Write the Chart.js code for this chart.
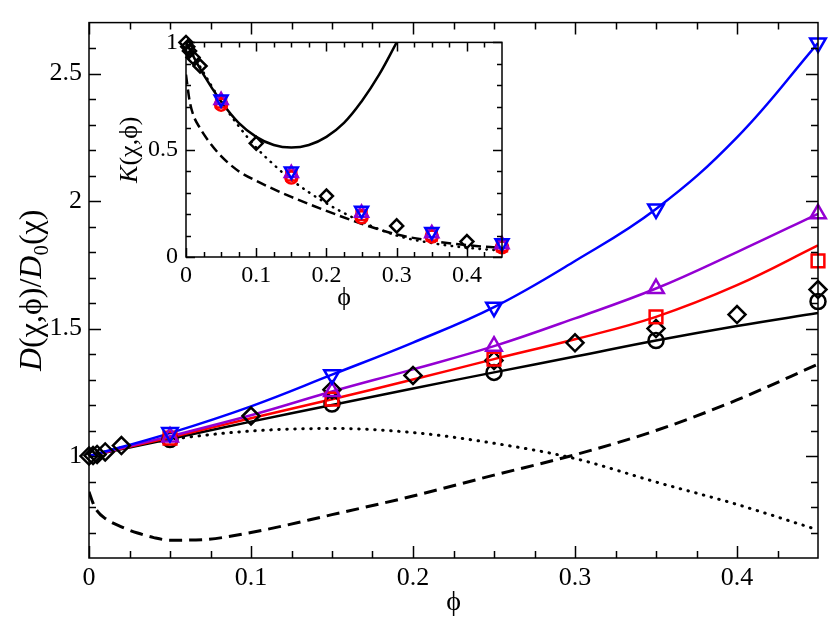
<!DOCTYPE html>
<html>
<head>
<meta charset="UTF-8">
<title>D(chi,phi)/D0(chi)</title>
<script src="https://cdn.jsdelivr.net/npm/chart.js"></script>
<style>
  html, body { margin: 0; padding: 0; background: #fff; }
  #wrap { position: relative; width: 830px; height: 630px; }
  #main { position: absolute; left: 0; top: 0; }
  #inset { position: absolute; left: 100px; top: 20px; }
</style>
</head>
<body>
<div id="wrap">
  <canvas id="main" width="830" height="630"></canvas>
  <canvas id="inset" width="420" height="300"></canvas>
</div>
<script>
// ---- main panel: D(chi,phi)/D0(chi) ----
const PHI_CURVE = [0, 0.05, 0.1, 0.15, 0.2, 0.25, 0.3, 0.35, 0.4, 0.45];
const D_BLUE    = [1.0, 1.09, 1.195, 1.319, 1.445, 1.584, 1.765, 1.969, 2.25, 2.62];
const D_PURPLE  = [1.0, 1.078, 1.16, 1.253, 1.34, 1.431, 1.54, 1.657, 1.80, 1.95];
const D_RED     = [1.0, 1.073, 1.148, 1.223, 1.30, 1.38, 1.458, 1.546, 1.67, 1.826];
const D_BLACK   = [1.0, 1.067, 1.135, 1.20, 1.265, 1.328, 1.39, 1.453, 1.51, 1.561];

const PHI_DASH = [0, 0.0025, 0.005, 0.01, 0.02, 0.03, 0.04, 0.05, 0.07, 0.1, 0.15, 0.2, 0.25, 0.3, 0.35, 0.4, 0.45];
const D_DASH   = [0.86, 0.815, 0.785, 0.755, 0.722, 0.698, 0.68, 0.67, 0.672, 0.70, 0.77, 0.843, 0.925, 1.005, 1.10, 1.22, 1.36];

const PHI_DOT = [0, 0.025, 0.05, 0.1, 0.15, 0.2, 0.25, 0.3, 0.35, 0.4, 0.45];
const D_DOT   = [1.0, 1.04, 1.065, 1.098, 1.108, 1.092, 1.05, 0.99, 0.898, 0.81, 0.71];

const PHI_SIM    = [0.05, 0.15, 0.25, 0.35, 0.45];
const D_CIRCLE   = [1.065, 1.204, 1.328, 1.453, 1.606];
const D_SQUARE   = [1.07, 1.223, 1.38, 1.546, 1.765];
const D_TRIANGLE = [1.075, 1.253, 1.431, 1.657, 1.95];
const D_DOWN     = [1.092, 1.319, 1.584, 1.969, 2.62];

const PHI_DIAMOND = [0, 0.0025, 0.005, 0.01, 0.02, 0.1, 0.15, 0.2, 0.25, 0.3, 0.35, 0.4, 0.45];
const D_DIAMOND   = [1.0, 1.002, 1.006, 1.016, 1.041, 1.157, 1.26, 1.316, 1.375, 1.444, 1.50, 1.555, 1.653];

const X_TICKS = [0, 0.1, 0.2, 0.3, 0.4];
const Y_TICKS = [1, 1.5, 2, 2.5];

// ---- inset: K(chi,phi) ----
const K_PHI_SOLID = [0, 0.025, 0.05, 0.075, 0.1, 0.125, 0.15, 0.175, 0.2, 0.225, 0.25, 0.275, 0.3];
const K_SOLID     = [1.0, 0.85, 0.725, 0.625, 0.56, 0.522, 0.51, 0.522, 0.56, 0.625, 0.725, 0.85, 1.0];

const K_PHI_DOT = [0, 0.025, 0.05, 0.075, 0.1, 0.125, 0.15, 0.2, 0.25, 0.3, 0.35, 0.4, 0.45];
const K_DOT     = [1.0, 0.86, 0.725, 0.61, 0.51, 0.43, 0.36, 0.25, 0.165, 0.10, 0.065, 0.043, 0.03];

const K_PHI_DASH = [0, 0.005, 0.01, 0.02, 0.03, 0.05, 0.075, 0.1, 0.15, 0.2, 0.25, 0.3, 0.35, 0.4, 0.45];
const K_DASH     = [0.85, 0.73, 0.665, 0.60, 0.55, 0.47, 0.40, 0.355, 0.28, 0.215, 0.155, 0.105, 0.075, 0.055, 0.042];

const K_CIRCLE   = [0.71, 0.37, 0.185, 0.095, 0.045];
const K_SQUARE   = [0.72, 0.38, 0.195, 0.10, 0.05];
const K_TRIANGLE = [0.73, 0.39, 0.205, 0.11, 0.058];
const K_DOWN     = [0.735, 0.40, 0.217, 0.118, 0.065];

const K_PHI_DIAMOND = [0, 0.0025, 0.005, 0.01, 0.02, 0.1, 0.2, 0.3, 0.4];
const K_DIAMOND     = [1.0, 0.98, 0.96, 0.93, 0.89, 0.53, 0.284, 0.145, 0.072];

const K_X_TICKS = [0, 0.1, 0.2, 0.3, 0.4];
const K_Y_TICKS = [0, 0.5, 1];

const SERIF = '"Liberation Serif", "DejaVu Serif", serif';
const BLUE = '#0000ff', PURPLE = '#9400d3', RED = '#ff0000', BLACK = '#000000';

const pts = (xs, ys) => xs.map((x, i) => ({ x: x, y: ys[i] }));

// smooth = bezier through evenly spaced points, monotone for the uneven ones
function curve(xs, ys, color, w, dash, mono) {
  const dotted = dash && dash[0] < 1;
  return {
    data: pts(xs, ys), showLine: true, borderColor: color, borderWidth: w,
    borderDash: dash || [], borderCapStyle: dotted ? 'round' : 'butt',
    pointRadius: 0, fill: false,
    cubicInterpolationMode: mono ? 'monotone' : 'default', tension: 0.4
  };
}

function marks(xs, ys, color, style, r, rot) {
  return {
    data: pts(xs, ys), showLine: false, pointStyle: style, pointRadius: r,
    pointHoverRadius: r, pointRotation: rot || 0, pointBorderColor: color,
    pointBackgroundColor: 'rgba(0,0,0,0)', pointBorderWidth: 2.5, clip: false
  };
}

function range(a, b, step, skip) {
  const out = [];
  for (let v = a; v <= b + 1e-9; v += step) {
    const r = Math.round(v * 1000) / 1000;
    if (!skip.some(s => Math.abs(s - r) < 1e-6)) out.push(r);
  }
  return out;
}

// frame, inward ticks on all four sides, and axis titles
function decor(cfg) {
  return {
    id: 'decor',
    beforeDraw(chart) {
      if (!cfg.fill) return;
      const a = chart.chartArea, c = chart.ctx;
      c.save();
      c.fillStyle = '#fff';
      c.fillRect(a.left, a.top, a.right - a.left, a.bottom - a.top);
      c.restore();
    },
    afterDraw(chart) {
      const a = chart.chartArea, c = chart.ctx;
      const xs = chart.scales.x, ys = chart.scales.y;
      c.save();
      c.strokeStyle = '#000';
      c.lineWidth = cfg.lw;
      c.setLineDash([]);
      c.beginPath();
      const xt = (vals, len) => vals.forEach(v => {
        const p = Math.round(xs.getPixelForValue(v)) + 0.5;
        c.moveTo(p, a.bottom); c.lineTo(p, a.bottom - len);
        c.moveTo(p, a.top); c.lineTo(p, a.top + len);
      });
      const yt = (vals, len) => vals.forEach(v => {
        const p = Math.round(ys.getPixelForValue(v)) + 0.5;
        c.moveTo(a.left, p); c.lineTo(a.left + len, p);
        c.moveTo(a.right, p); c.lineTo(a.right - len, p);
      });
      xt(cfg.xMajor, cfg.major); xt(cfg.xMinor, cfg.minor);
      yt(cfg.yMajor, cfg.major); yt(cfg.yMinor, cfg.minor);
      c.stroke();
      c.strokeRect(a.left, a.top, a.right - a.left, a.bottom - a.top);

      c.fillStyle = '#000';
      c.font = cfg.xSize + 'px ' + SERIF;
      c.textAlign = 'center';
      c.textBaseline = 'middle';
      c.fillText(cfg.xTitle, (a.left + a.right) / 2, cfg.xTitleY);

      // rotated y title built from italic / upright / subscript pieces
      const fontOf = s => (s.it ? 'italic ' : '') + (s.sub ? cfg.ySize * 0.65 : cfg.ySize) + 'px ' + SERIF;
      let total = 0;
      cfg.yTitle.forEach(s => { c.font = fontOf(s); total += c.measureText(s.t).width; });
      c.translate(cfg.yTitleX, (a.top + a.bottom) / 2);
      c.rotate(-Math.PI / 2);
      c.textAlign = 'left';
      c.textBaseline = 'alphabetic';
      let x = -total / 2;
      cfg.yTitle.forEach(s => {
        c.font = fontOf(s);
        c.fillText(s.t, x, cfg.ySize * 0.35 + (s.sub ? cfg.ySize * 0.22 : 0));
        x += c.measureText(s.t).width;
      });
      c.restore();
    }
  };
}

function axes(xMin, xMax, yMin, yMax, xTicks, yTicks, size, yw, xh, padX, padY) {
  const tickFont = { family: SERIF, size: size };
  return {
    x: {
      type: 'linear', min: xMin, max: xMax,
      grid: { display: false, drawTicks: false }, border: { display: false },
      afterBuildTicks: s => { s.ticks = xTicks.map(v => ({ value: v })); },
      afterFit: s => { s.height = xh; },
      ticks: { font: tickFont, color: '#000', padding: padX, autoSkip: false, maxRotation: 0, callback: v => String(v) }
    },
    y: {
      type: 'linear', min: yMin, max: yMax,
      grid: { display: false, drawTicks: false }, border: { display: false },
      afterBuildTicks: s => { s.ticks = yTicks.map(v => ({ value: v })); },
      afterFit: s => { s.width = yw; },
      ticks: { font: tickFont, color: '#000', padding: padY, autoSkip: false, callback: v => String(v) }
    }
  };
}

const common = {
  responsive: false, animation: false, events: [],
  plugins: { legend: { display: false }, tooltip: { enabled: false } }
};

new Chart(document.getElementById('main'), {
  type: 'line',
  data: {
    datasets: [
      marks(PHI_SIM, D_DOWN, BLUE, 'triangle', 9, 180),
      marks(PHI_SIM, D_TRIANGLE, PURPLE, 'triangle', 9),
      marks(PHI_SIM, D_SQUARE, RED, 'rect', 9),
      marks(PHI_SIM, D_CIRCLE, BLACK, 'circle', 7.5),
      marks(PHI_DIAMOND, D_DIAMOND, BLACK, 'rectRot', 8.5),
      curve(PHI_CURVE, D_BLUE, BLUE, 2.5),
      curve(PHI_CURVE, D_PURPLE, PURPLE, 2.5),
      curve(PHI_CURVE, D_RED, RED, 2.5),
      curve(PHI_CURVE, D_BLACK, BLACK, 2.5),
      curve(PHI_DASH, D_DASH, BLACK, 3, [13, 7], true),
      curve(PHI_DOT, D_DOT, BLACK, 3, [0.5, 7.5], true)
    ]
  },
  options: Object.assign({}, common, {
    layout: { padding: { top: 10, right: 12, left: 0, bottom: 0 } },
    scales: axes(0, 0.45, 0.6, 2.7, X_TICKS, Y_TICKS, 26, 89, 72, 5, 7)
  }),
  plugins: [decor({
    fill: false, lw: 1.5, major: 12, minor: 7,
    xMajor: X_TICKS, xMinor: range(0, 0.425, 0.025, X_TICKS),
    yMajor: Y_TICKS, yMinor: range(0.7, 2.6, 0.1, Y_TICKS),
    xTitle: 'ϕ', xSize: 28, xTitleY: 603,
    yTitle: [{ t: 'D', it: true }, { t: '(χ,ϕ)/' }, { t: 'D', it: true }, { t: '0', sub: true }, { t: '(χ)' }],
    ySize: 32, yTitleX: 30
  })]
});

new Chart(document.getElementById('inset'), {
  type: 'line',
  data: {
    datasets: [
      marks(PHI_SIM, K_DOWN, BLUE, 'triangle', 7.5, 180),
      marks(PHI_SIM, K_TRIANGLE, PURPLE, 'triangle', 7.5),
      marks(PHI_SIM, K_SQUARE, RED, 'rect', 7),
      marks(PHI_SIM, K_CIRCLE, RED, 'circle', 6),
      marks(K_PHI_DIAMOND, K_DIAMOND, BLACK, 'rectRot', 6.5),
      curve(K_PHI_SOLID, K_SOLID, BLACK, 2.5),
      curve(K_PHI_DASH, K_DASH, BLACK, 2.5, [10, 5], true),
      curve(K_PHI_DOT, K_DOT, BLACK, 2.5, [0.5, 6.5], true)
    ]
  },
  options: Object.assign({}, common, {
    layout: { padding: { top: 16, right: 18, left: 0, bottom: 0 } },
    scales: axes(0, 0.45, 0, 1, K_X_TICKS, K_Y_TICKS, 24, 86, 63, 4, 8)
  }),
  plugins: [decor({
    fill: true, lw: 1.5, major: 9, minor: 5,
    xMajor: K_X_TICKS, xMinor: range(0, 0.425, 0.025, K_X_TICKS),
    yMajor: K_Y_TICKS, yMinor: range(0.1, 0.9, 0.1, K_Y_TICKS),
    xTitle: 'ϕ', xSize: 26, xTitleY: 278,
    yTitle: [{ t: 'K', it: true }, { t: '(χ,ϕ)' }],
    ySize: 26, yTitleX: 28
  })]
});
</script>
</body>
</html>
